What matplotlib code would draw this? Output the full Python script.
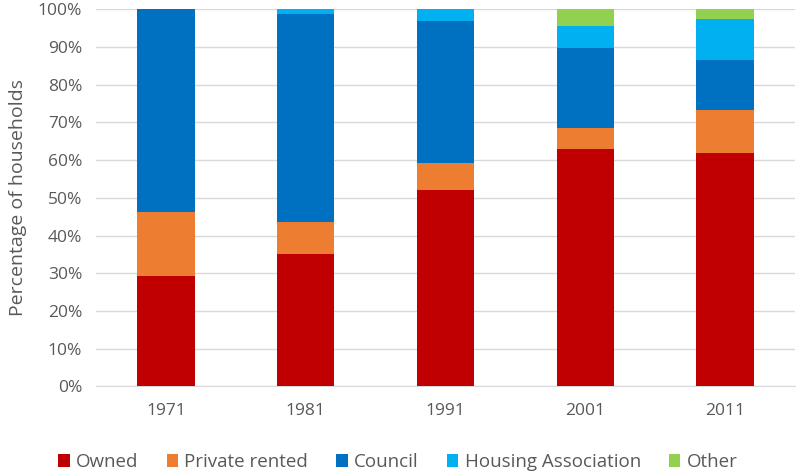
import matplotlib
matplotlib.use("Agg")
import matplotlib.pyplot as plt
import numpy as np

years = ["1971", "1981", "1991", "2001", "2011"]
owned = [29.4, 35.0, 52.0, 62.8, 61.9]
private_rented = [16.9, 8.5, 7.1, 5.8, 11.4]
council = [53.7, 55.2, 37.8, 21.2, 13.2]
housing_assoc = [0.0, 1.3, 3.1, 5.6, 10.9]
other = [0.0, 0.0, 0.0, 4.6, 2.6]

series = [
    ("Owned", owned, "#C00000"),
    ("Private rented", private_rented, "#ED7D31"),
    ("Council", council, "#0070C0"),
    ("Housing Association", housing_assoc, "#00B0F0"),
    ("Other", other, "#92D050"),
]

plt.rcParams['font.family'] = ['Open Sans', 'DejaVu Sans']

fig = plt.figure(figsize=(7.96, 4.73), dpi=100)
ax = fig.add_axes([0.1206, 0.1829, 0.878, 0.798])

x = np.arange(len(years))
bottom = np.zeros(len(years))
for name, vals, col in series:
    v = np.array(vals)
    ax.bar(x, v, width=0.41, bottom=bottom, color=col, label=name, zorder=3)
    bottom += v

ax.set_xlim(-0.5, len(years) - 0.5)
ax.set_ylim(0, 100)
ax.set_yticks(np.arange(0, 101, 10))
ax.set_yticklabels([f"{t}%" for t in range(0, 101, 10)])
ax.set_xticks(x)
ax.set_xticklabels(years)
ax.yaxis.grid(True, color="#D9D9D9", linewidth=1, zorder=0)
ax.set_axisbelow(True)
for s in ["top", "right", "left"]:
    ax.spines[s].set_visible(False)
ax.spines["bottom"].set_color("#D9D9D9")
ax.tick_params(axis="y", length=0, labelsize=12.5, colors="#595959", pad=10)
ax.tick_params(axis="x", length=0, labelsize=12.5, colors="#595959", pad=12)
ax.set_ylabel("Percentage of households", fontsize=14, color="#595959", labelpad=8)

handles, labels = ax.get_legend_handles_labels()
fig.legend(handles, labels, loc="center", bbox_to_anchor=(0.5, 0.023), ncol=5,
           frameon=False, fontsize=13.5, handlelength=0.6, handleheight=0.75,
           handletextpad=0.35, columnspacing=1.5, labelcolor="#595959")

fig.savefig("out.png", dpi=100)
